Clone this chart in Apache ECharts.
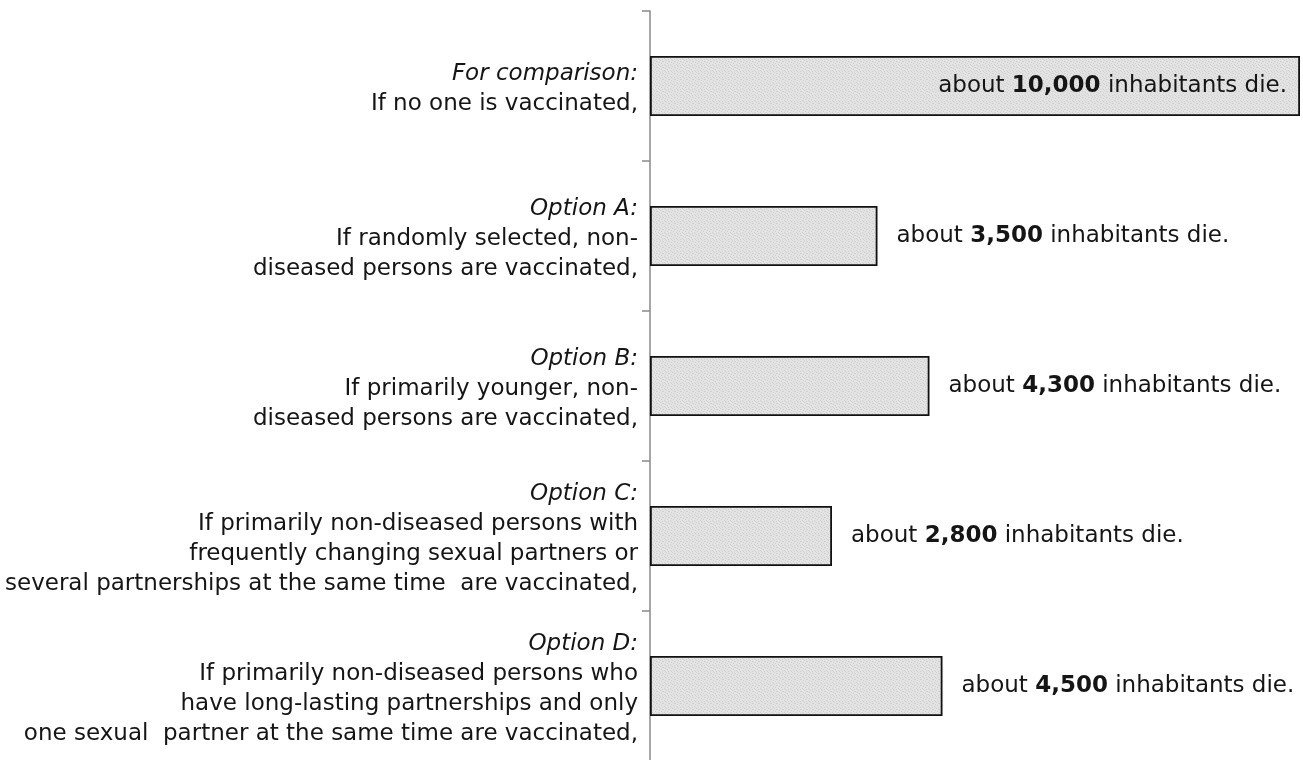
<!DOCTYPE html>
<html>
<head>
<meta charset="utf-8">
<title>Vaccination scenarios</title>
<script src="https://cdn.jsdelivr.net/npm/echarts@6/dist/echarts.min.js"></script>
<style>
  html, body { margin: 0; padding: 0; background: #fff; }
  #chart { width: 1303px; height: 760px; }
</style>
</head>
<body>
<div id="chart"></div>
<script>
// Scenario headings (italic) and their description lines
const headings = ['For comparison:', 'Option A:', 'Option B:', 'Option C:', 'Option D:'];
const descriptions = [
  ['If no one is vaccinated,'],
  ['If randomly selected, non-', 'diseased persons are vaccinated,'],
  ['If primarily younger, non-', 'diseased persons are vaccinated,'],
  ['If primarily non-diseased persons with', 'frequently changing sexual partners or', 'several partnerships at the same time  are vaccinated,'],
  ['If primarily non-diseased persons who', 'have long-lasting partnerships and only', 'one sexual  partner at the same time are vaccinated,']
];
// Expected number of deaths per scenario
const deaths = [10000, 3500, 4300, 2800, 4500];
const axisMax = 10000;

const categories = headings.map((h, i) => h + '\n' + descriptions[i].join('\n'));

// Fine, low-contrast grey speckle texture for the bars
function makeTexture() {
  const c = document.createElement('canvas');
  c.width = 6; c.height = 6;
  const ctx = c.getContext('2d');
  ctx.fillStyle = '#e3e3e3';
  ctx.fillRect(0, 0, 6, 6);
  ctx.fillStyle = '#d1d1d1';
  [[0, 0], [3, 1], [5, 2], [1, 3], [4, 4], [2, 5], [5, 5], [2, 1]].forEach(p => ctx.fillRect(p[0], p[1], 1, 1));
  return c;
}
const barFill = { image: makeTexture(), repeat: 'repeat' };

const FONT = 'DejaVu Sans';
const TEXT = '#151515';
const valueRich = {
  n: { fontFamily: FONT, fontSize: 23, color: TEXT },
  b: { fontFamily: FONT, fontSize: 23, color: TEXT, fontWeight: 'bold' }
};

const seriesData = deaths.map(v => {
  const inside = v / axisMax > 0.9;
  return {
    value: v,
    label: {
      show: true,
      position: inside ? 'insideRight' : 'right',
      distance: inside ? 13 : 19,
      formatter: () => '{n|about }{b|' + v.toLocaleString('en-US') + '}{n| inhabitants die.}',
      rich: valueRich
    }
  };
});

const chart = echarts.init(document.getElementById('chart'), null, { renderer: 'canvas' });
chart.setOption({
  animation: false,
  backgroundColor: '#ffffff',
  grid: { left: 650, top: 11, width: 650, height: 750, containLabel: false, outerBoundsMode: 'none' },
  xAxis: {
    type: 'value', min: 0, max: axisMax, show: false,
    splitLine: { show: false }
  },
  yAxis: {
    type: 'category',
    inverse: true,
    data: categories,
    axisLine: { show: true, lineStyle: { color: '#8a8a8a', width: 1.5 } },
    axisTick: { show: true, length: 8, lineStyle: { color: '#8a8a8a', width: 1.5 } },
    splitLine: { show: false },
    axisLabel: {
      margin: 12,
      align: 'right',
      padding: [7, 0, 0, 0],
      formatter: (val) => {
        const lines = val.split('\n');
        return '{i|' + lines[0] + '}\n' + lines.slice(1).map(l => '{n|' + l + '}').join('\n');
      },
      rich: {
        i: { fontFamily: FONT, fontSize: 23, fontStyle: 'italic', color: TEXT, lineHeight: 30, align: 'right' },
        n: { fontFamily: FONT, fontSize: 23, color: TEXT, lineHeight: 30, align: 'right' }
      }
    }
  },
  series: [{
    type: 'bar',
    data: seriesData,
    barWidth: 60,
    itemStyle: { color: barFill, borderColor: '#111', borderWidth: 1.8 },
    emphasis: { disabled: true }
  }]
});
</script>
</body>
</html>
